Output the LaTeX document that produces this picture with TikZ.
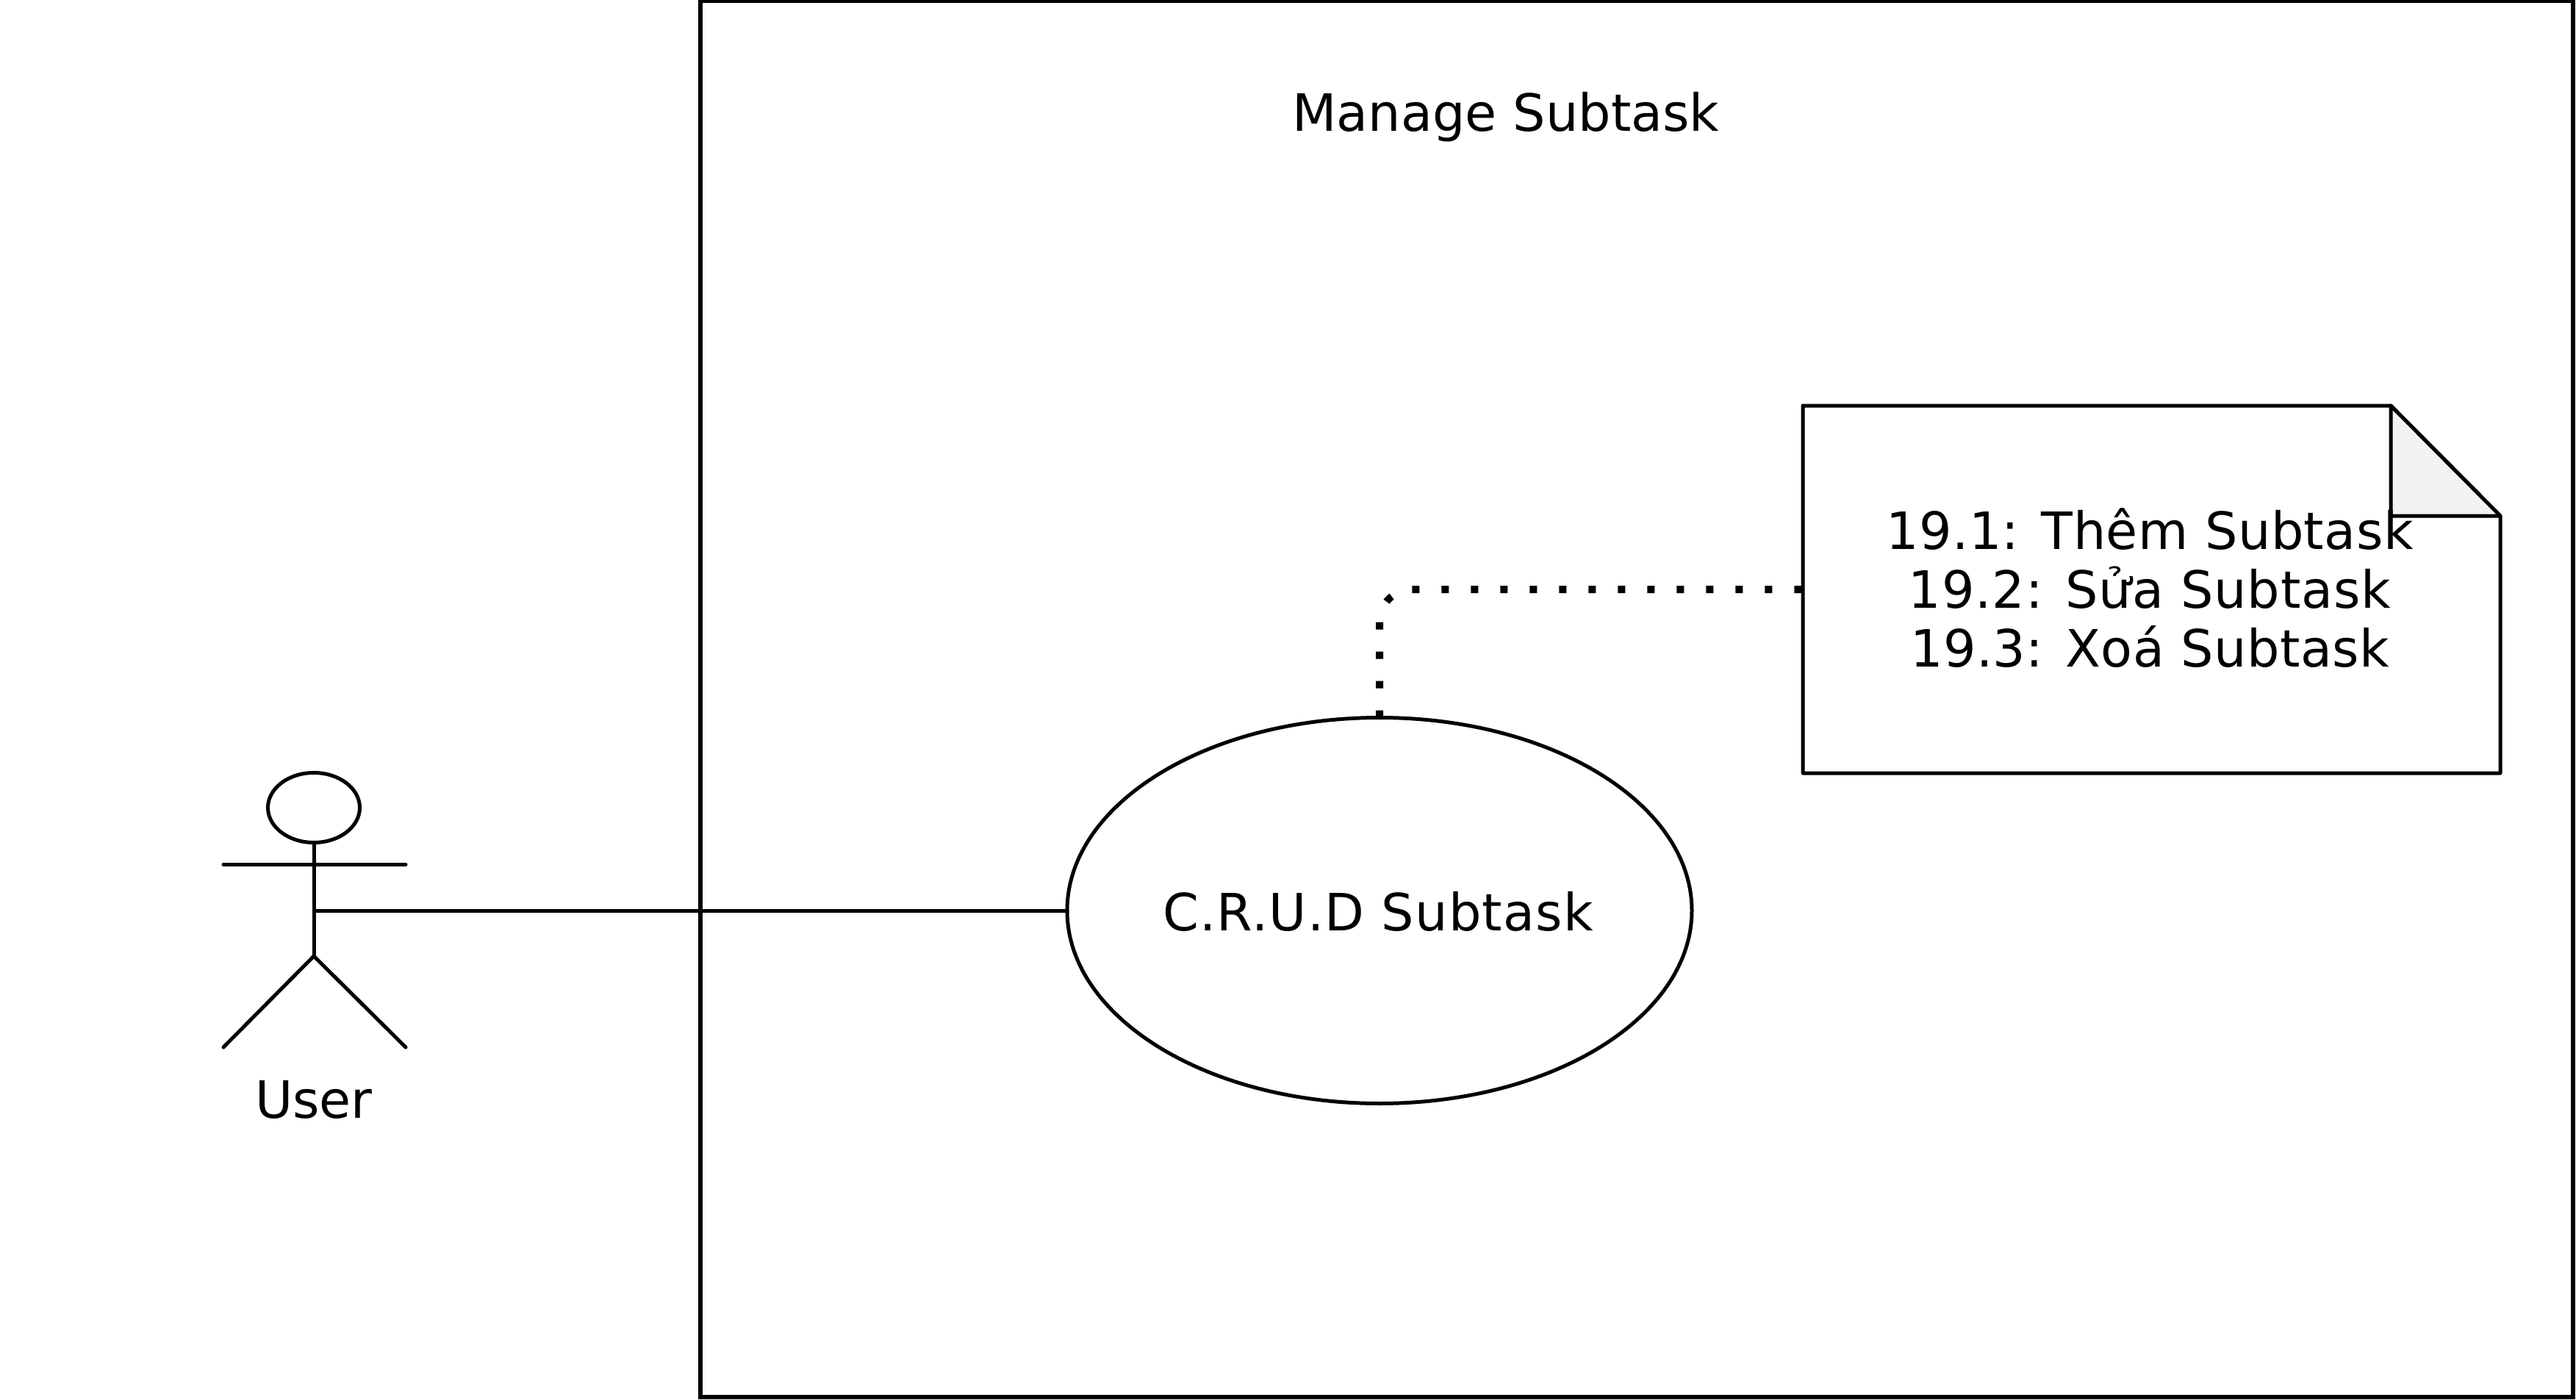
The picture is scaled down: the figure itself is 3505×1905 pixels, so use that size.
\documentclass[tikz,border=0pt]{standalone}
\usepackage{fontspec}
\setmainfont{DejaVu Sans}
\usetikzlibrary{shapes.geometric}
\definecolor{foldgray}{HTML}{F2F2F2}
\newcommand{\lsp}[2]{{\addfontfeature{LetterSpace=#1}#2}}
\tikzset{
  lbl/.style={font=\fontsize{17.5pt}{19.9pt}\selectfont, inner sep=0pt, outer sep=0pt, align=center},
  ln/.style={draw=black, line width=1.25pt},
  stick/.style={ln, line cap=round},
  usecase/.style={ln, ellipse, fill=white, inner sep=0pt, outer sep=0pt, minimum width=212.5pt, minimum height=131.25pt},
  head/.style={ln, ellipse, inner sep=0pt, outer sep=0pt, minimum width=31.25pt, minimum height=23.75pt},
  notearea/.style={rectangle, inner sep=0pt, outer sep=0pt, minimum width=237.25pt, minimum height=125pt},
  dots/.style={draw=black, line width=2.5pt, dash pattern=on 2.5pt off 7.5pt, rounded corners=11pt}
}
\begin{document}
\begin{tikzpicture}[x=0.25pt,y=-0.25pt]
\useasboundingbox (0,0) rectangle (3505,1905);
% system boundary
\node[draw=black, line width=1.45pt, rectangle, inner sep=0pt, outer sep=0pt, minimum width=637pt, minimum height=475pt] (sys) at (2227,951) {};
\node[lbl, anchor=base] (title) at (2049,179) {Manage Subtask};
% actor
\node[head] (acthead) at (427,1099) {};
\coordinate (hip) at (427,1301);
\coordinate (armL) at (304,1176);
\coordinate (armR) at (552,1176);
\coordinate (legL) at (304,1425);
\coordinate (legR) at (552,1425);
\coordinate (actmid) at (427,1239);
\draw[stick] (acthead.south) -- (hip);
\draw[stick] (armL) -- (armR);
\draw[stick] (legL) -- (hip) -- (legR);
\node[lbl, anchor=base] (actlabel) at (427,1521) {User};
% use case
\node[usecase] (uc) at (1877,1239) {};
\node[lbl, anchor=base] (uclabel) at (1875,1266) {\lsp{1.7}{C.R.U.D Subtask}};
\draw[ln] (actmid) -- (uc.west);
% note
\node[notearea] (note) at (2927.5,802) {};
\coordinate (foldTop) at (3253,552);
\coordinate (foldRight) at (3402,702);
\coordinate (foldIn) at (3253,702);
\draw[ln, line join=round] (note.north west) -- (foldTop) -- (foldRight) -- (note.south east) -- (note.south west) -- cycle;
\draw[ln, fill=foldgray, line join=round] (foldTop) -- (foldRight) -- (foldIn) -- cycle;
\node[lbl] (notetext) at (2925,800) {\lsp{0.65}{19.1: Thêm Subtask}\\\lsp{1.3}{19.2: Sửa Subtask}\\\lsp{0.6}{19.3: Xoá Subtask}};
% dotted connector
\draw[dots] (uc.north) |- (note.west);
\end{tikzpicture}
\end{document}
